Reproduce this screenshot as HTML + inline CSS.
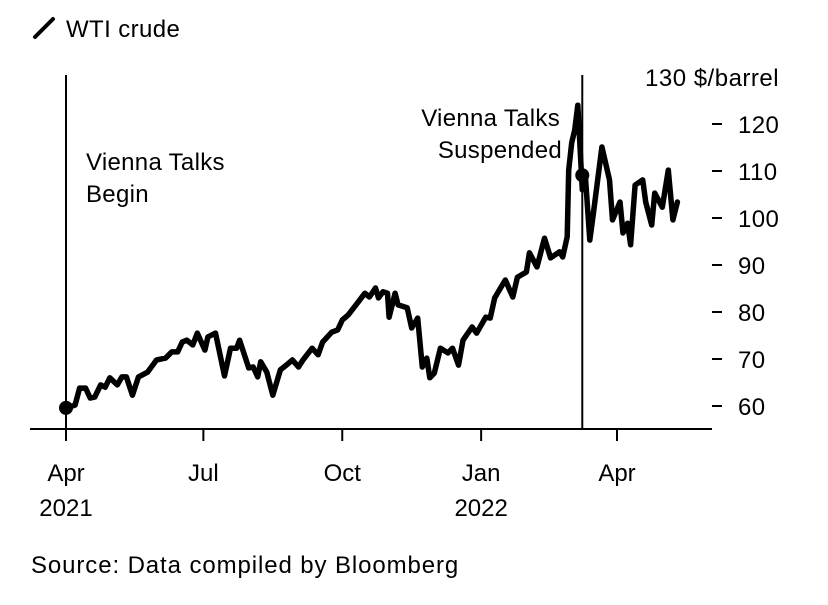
<!DOCTYPE html>
<html><head><meta charset="utf-8"><style>
html,body{margin:0;padding:0;background:#fff;}
svg{display:block;font-family:"Liberation Sans",Arial,sans-serif;}
</style></head><body>
<svg id="chart" width="828" height="605" viewBox="0 0 828 605">
<line x1="35" y1="37" x2="53" y2="19" stroke="#000" stroke-width="4" stroke-linecap="round"/>
<text x="66" y="37" font-size="24" letter-spacing="0.4">WTI crude</text>
<g id="axes"></g>
<g id="marks"></g>
<text x="86" y="170" font-size="24" letter-spacing="0.3"><tspan x="86">Vienna Talks</tspan><tspan x="86" dy="32">Begin</tspan></text>
<text x="560" y="126" font-size="24" letter-spacing="0.3" text-anchor="end"><tspan x="560">Vienna Talks</tspan><tspan x="562" dy="32">Suspended</tspan></text>
<text x="31" y="573" font-size="24" letter-spacing="0.9">Source: Data compiled by Bloomberg</text>
</svg>
<script>
const days = [0,6,9,13,16,19,23,26,29,34,37,40,44,48,54,60,66,70,74,77,80,84,87,92,94,99,105,109,113,115,121,124,127,129,133,137,142,146,150,154,157,163,167,170,176,180,183,187,193,198,201,205,207,210,213,214,218,220,226,229,233,236,239,241,244,248,253,256,260,263,269,272,278,281,284,291,296,299,305,307,312,317,321,327,329,332,333,335,337,339,342,344,347,349,355,360,362,367,369,372,374,377,382,384,388,390,395,399,402,405];
const prices = [59.6,60.2,63.8,63.8,61.7,61.9,64.5,64.0,66.0,64.5,66.2,66.2,62.3,66.2,67.2,69.8,70.2,71.5,71.5,73.6,74.0,73.0,75.5,71.9,74.7,75.5,66.4,72.3,72.3,74.0,68.1,68.3,66.2,69.4,67.2,62.3,67.7,68.7,69.8,68.3,69.8,72.3,70.9,73.6,75.7,76.2,78.3,79.4,81.9,84.0,83.2,85.1,83.0,84.3,84.0,78.9,84.0,81.5,80.9,76.6,78.7,68.3,70.2,66.0,67.0,72.3,71.3,72.3,68.7,74.0,76.8,75.5,78.9,78.7,83.0,86.8,83.2,87.4,88.5,92.6,89.6,95.7,91.5,92.8,91.7,96.0,110.2,116.0,118.7,124.0,106.0,109.1,95.3,100.2,115.1,108.1,99.6,103.4,96.8,98.9,94.3,107.0,108.1,103.4,98.5,105.3,102.3,110.2,99.6,103.4];
const yTicks = [60,70,80,90,100,110,120];
const xTickDays = [0,91,183,275,365];
const xTickLabels = ["Apr","Jul","Oct","Jan","Apr"];
const yearLabels = [[0,"2021"],[275,"2022"]];
const eventDays = [0,342];
const eventValues = [59.6,109.1];

const X = d => 66 + d*1.5096;
const Y = v => 406 - (v-60)*4.7;
const NS = "http://www.w3.org/2000/svg";
const axes = document.getElementById('axes');
const marks = document.getElementById('marks');
function mk(tag, attrs, parent, txt){
  const e = document.createElementNS(NS, tag);
  for (const k in attrs) e.setAttribute(k, attrs[k]);
  if (txt !== undefined) e.textContent = txt;
  parent.appendChild(e); return e;
}
let el = mk('line',{x1:30,y1:429,x2:712,y2:429,stroke:'#000','stroke-width':2},axes);


xTickDays.forEach((d,i)=>{
  const t = mk('line',{x1:X(d),y1:429,x2:X(d),y2:441,stroke:'#000','stroke-width':2},axes);
  
  
  const l = mk('text',{x:X(d),y:481,'font-size':24,'text-anchor':'middle'},axes,xTickLabels[i]);
  
  
});
yearLabels.forEach(([d,s])=>{
  const l = mk('text',{x:X(d),y:516,'font-size':24,'text-anchor':'middle'},axes,s);
  
  
});
yTicks.forEach(v=>{
  const t = mk('line',{x1:712,y1:Y(v),x2:722,y2:Y(v),stroke:'#000','stroke-width':2},axes);
  
  
  const l = mk('text',{x:738,y:Y(v)+9,'font-size':24,'letter-spacing':0.4},axes,String(v));
  
  
});
el = mk('text',{x:645,y:Y(130)+9,'font-size':24,'letter-spacing':0.5},axes,'130 $/barrel');


eventDays.forEach(d=>{
  const v = mk('line',{x1:X(d),y1:75,x2:X(d),y2:429,stroke:'#000','stroke-width':2},marks);
  
  
});
const pts = days.map((d,i)=>X(d).toFixed(1)+','+Y(prices[i]).toFixed(1)).join(' ');
el = mk('polyline',{points:pts,fill:'none',stroke:'#000','stroke-width':5.5,'stroke-linejoin':'round','stroke-linecap':'round'},marks);


eventDays.forEach((d,i)=>{
  const c = mk('circle',{cx:X(d),cy:Y(eventValues[i]),r:7,fill:'#000'},marks);
  
  
});
</script>
</body></html>
